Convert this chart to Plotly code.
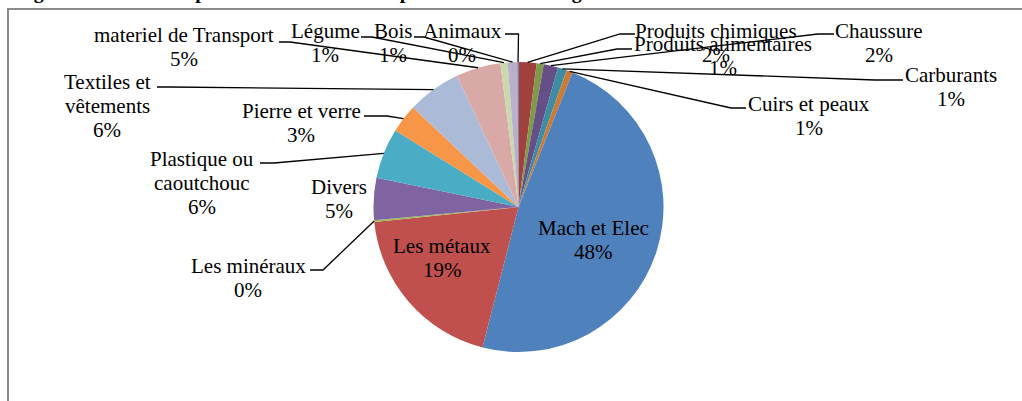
import math
import plotly.graph_objects as go

# ---------------- data ----------------
categories = ["Produits chimiques", "Produits alimentaires", "Chaussure", "Carburants",
              "Cuirs et peaux", "Mach et Elec", "Les métaux", "Les minéraux", "Divers",
              "Plastique ou caoutchouc", "Pierre et verre", "Textiles et vêtements",
              "materiel de Transport", "Légume", "Bois", "Animaux"]
values = [2.0, 0.8, 1.6, 1.0, 0.7, 48.0, 19.4, 0.2, 4.7, 5.6, 3.2, 6.0, 5.0, 0.8, 1.1, 0.1]
colors = ["#A0413E", "#7F9A48", "#664F87", "#3C8DA3", "#CD7A37", "#4F81BD", "#C0504D",
          "#9BBB59", "#8064A2", "#4BACC6", "#F79646", "#AABAD7", "#D9A9A8", "#C9D9AC",
          "#BAB0CB", "#3A5F8F"]
title_text = "Figure N° 12 : Les exportations de la Tunisie par secteur vers l'Algérie"

# ---------------- layout helpers ----------------
W, H = 1022, 401
CX, CY, R = 518.5, 207.0, 145.0
FONT = "Liberation Serif, Times New Roman, serif"
FS = 21
STEP = 24

def px(x):
    return x / W

def py(y):
    return 1 - y / H

# label line-breaks
wraps = {"Textiles et vêtements": ["Textiles et", "vêtements"],
         "Plastique ou caoutchouc": ["Plastique ou", "caoutchouc"]}

# first-line centre of each label (pixels)
label_pos = {
    "materiel de Transport": (184, 35), "Légume": (325, 31), "Bois": (393, 31),
    "Animaux": (462, 31), "Produits chimiques": (716, 31),
    "Produits alimentaires": (723, 44), "Chaussure": (879, 31),
    "Carburants": (951, 75), "Cuirs et peaux": (809, 104),
    "Textiles et vêtements": (107, 82), "Pierre et verre": (301, 111),
    "Plastique ou caoutchouc": (202, 159), "Divers": (339, 187),
    "Les minéraux": (248, 266), "Les métaux": (442, 246), "Mach et Elec": (593, 228),
}
# leader line: start x, y, elbow x (pixels)
leaders = {
    "materiel de Transport": (279, 42, 290), "Légume": (361, 37, 372),
    "Bois": (414, 37, 424), "Animaux": (505, 34, 518.5),
    "Produits chimiques": (635, 34, 620), "Produits alimentaires": (632, 49, 617),
    "Chaussure": (834, 34, 818), "Carburants": (903, 80, 875),
    "Cuirs et peaux": (746, 108, 731), "Textiles et vêtements": (157, 87, 170),
    "Pierre et verre": (364, 116, 387), "Plastique ou caoutchouc": (260, 163, 274),
    "Les minéraux": (310, 270, 323),
}

total = sum(values)

fig = go.Figure(go.Pie(
    labels=categories, values=values, sort=False, direction="clockwise", rotation=0,
    marker=dict(colors=colors, line=dict(width=0)),
    textinfo="none", hoverinfo="label+percent", showlegend=False,
    domain=dict(x=[px(CX - R), px(CX + R)], y=[py(CY + R), py(CY - R)]),
))

annotations = []
shapes = []
cum = 0.0
for name, v in zip(categories, values):
    start = cum
    cum += v
    mid = (start + v / 2) / total * 2 * math.pi
    sx = CX + R * math.sin(mid)
    sy = CY - R * math.cos(mid)
    pct = f"{round(v / total * 100)}%"
    lines = wraps.get(name, [name]) + [pct]
    lx, ly = label_pos[name]
    for i, t in enumerate(lines):
        annotations.append(dict(
            x=px(lx), y=py(ly + i * STEP), xref="paper", yref="paper",
            text=t, showarrow=False, xanchor="center", yanchor="middle",
            font=dict(family=FONT, size=FS, color="#000000")))
    if name in leaders:
        x0, y0, xe = leaders[name]
        path = f"M {px(x0)} {py(y0)} L {px(xe)} {py(y0)} L {px(sx)} {py(sy)}"
        shapes.append(dict(type="path", path=path, xref="paper", yref="paper",
                           line=dict(color="#000000", width=1.3)))

# chart border (gray)
shapes.append(dict(type="rect", xref="paper", yref="paper",
                   x0=px(8), y0=py(420), x1=px(1040), y1=py(9),
                   line=dict(color="#8C8C8C", width=2), fillcolor="rgba(0,0,0,0)"))

# clipped title
annotations.append(dict(x=px(14), y=py(5), xref="paper", yref="paper",
                        text=f"<b>{title_text}</b>", showarrow=False,
                        xanchor="left", yanchor="bottom",
                        font=dict(family=FONT, size=20, color="#000000")))

fig.update_layout(
    width=W, height=H, margin=dict(l=0, r=0, t=0, b=0),
    paper_bgcolor="white", plot_bgcolor="white",
    annotations=annotations, shapes=shapes,
)

fig.write_html("out.html", config={"displayModeBar": False},
               post_script="document.body.style.margin='0';document.body.style.overflow='hidden';")
